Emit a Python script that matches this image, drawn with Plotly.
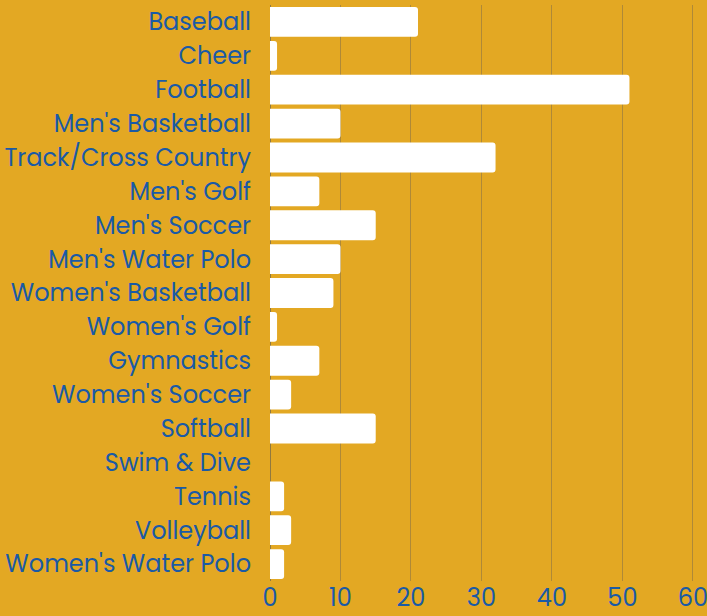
import plotly.graph_objects as go

sports = ["Baseball", "Cheer", "Football", "Men's Basketball", "Track/Cross Country",
          "Men's Golf", "Men's Soccer", "Men's Water Polo", "Women's Basketball",
          "Women's Golf", "Gymnastics", "Women's Soccer", "Softball", "Swim & Dive",
          "Tennis", "Volleyball", "Women's Water Polo"]
counts = [21, 1, 51, 10, 32, 7, 15, 10, 9, 1, 7, 3, 15, 0, 2, 3, 2]
x_ticks = [0, 10, 20, 30, 40, 50, 60]

BG = "#E3A823"
BLUE = "#1A5AA6"

fig = go.Figure(go.Bar(
    x=counts, y=sports, orientation="h",
    marker=dict(color="white", line=dict(width=0)),
    hoverinfo="x+y",
))
fig.update_layout(
    width=707, height=616,
    paper_bgcolor=BG, plot_bgcolor=BG,
    margin=dict(l=270, r=12, t=5, b=35, autoexpand=False),
    bargap=0.12,
    barcornerradius=3,
    font=dict(family="Poppins, 'Open Sans', sans-serif", size=24, color=BLUE),
    showlegend=False,
)
fig.update_yaxes(categoryorder="array", categoryarray=sports, autorange="reversed",
                 showgrid=False, ticks="", ticklabelstandoff=18, automargin=False,
                 tickfont=dict(size=24, color=BLUE))
fig.update_xaxes(range=[0, 60.3], tickvals=x_ticks, showgrid=True, automargin=False,
                 gridcolor="rgba(110,100,80,0.45)", gridwidth=1,
                 zeroline=True, zerolinecolor="rgba(90,90,80,0.6)", zerolinewidth=1,
                 ticks="", ticklabeloverflow="allow",
                 tickfont=dict(size=24, color=BLUE))
fig.write_html("out.html",
               config={"displayModeBar": False},
               post_script="document.body.style.margin='0px';document.body.style.background='" + BG + "';")
